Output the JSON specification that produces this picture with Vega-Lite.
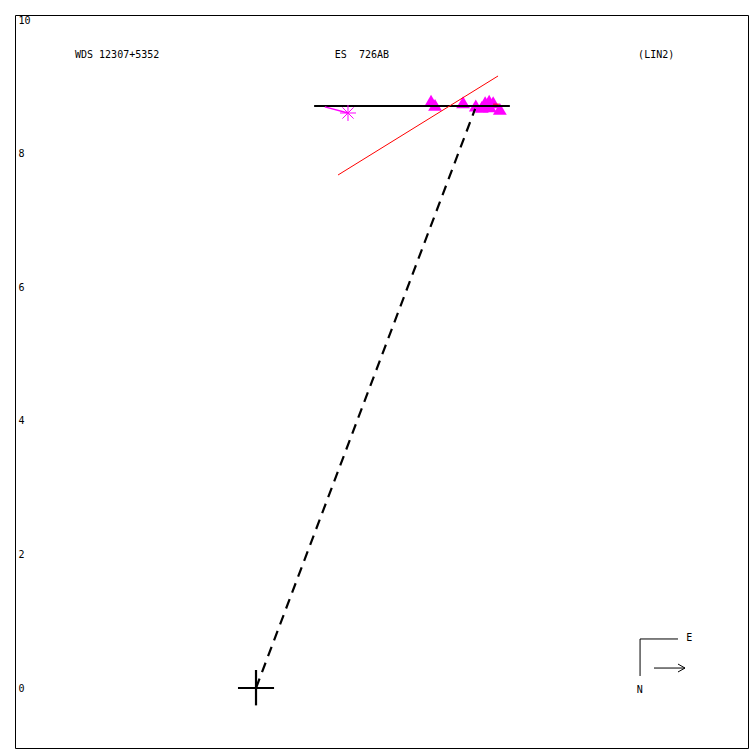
{
  "$schema": "https://vega.github.io/schema/vega-lite/v6.json",
  "width": 733,
  "height": 733,
  "autosize": {"type": "none"},
  "padding": {"left": 15, "top": 15, "right": 2, "bottom": 2},
  "background": "white",
  "config": {"view": {"stroke": "black", "strokeWidth": 1}},
  "datasets": {
    "black": [
      {"x": 0.87, "y": 8.713, "x2": 3.80, "y2": 8.713, "w": "thick"},
      {"x": -0.27, "y": 0, "x2": 0.27, "y2": 0, "w": "thick"},
      {"x": 0, "y": -0.26, "x2": 0, "y2": 0.27, "w": "thick"},
      {"x": 5.749, "y": 0.734, "x2": 6.317, "y2": 0.734, "w": "thin"},
      {"x": 5.749, "y": 0.734, "x2": 5.749, "y2": 0.18, "w": "thin"},
      {"x": 5.958, "y": 0.299, "x2": 6.422, "y2": 0.299, "w": "thin"},
      {"x": 6.317, "y": 0.359, "x2": 6.422, "y2": 0.299, "w": "thin"},
      {"x": 6.317, "y": 0.240, "x2": 6.422, "y2": 0.299, "w": "thin"}
    ],
    "red": [
      {"x": 1.228, "y": 7.68, "x2": 3.623, "y2": 9.162},
      {"x": 3.55, "y": 8.74, "x2": 3.64, "y2": 8.74}
    ],
    "dashed": [
      {"x": 0, "y": 0, "x2": 3.28, "y2": 8.67}
    ],
    "resid": [
      {"x": 1.03, "y": 8.70, "x2": 1.377, "y2": 8.608}
    ],
    "tri": [
      {"x": 2.62, "y": 8.79},
      {"x": 2.68, "y": 8.73},
      {"x": 3.10, "y": 8.77},
      {"x": 3.29, "y": 8.72},
      {"x": 3.38, "y": 8.70},
      {"x": 3.43, "y": 8.77},
      {"x": 3.49, "y": 8.79},
      {"x": 3.50, "y": 8.71},
      {"x": 3.55, "y": 8.77},
      {"x": 3.65, "y": 8.67}
    ],
    "star": [
      {"x": 1.377, "y": 8.608}
    ],
    "labels": [
      {"x": -2.71, "y": 9.476, "t": "WDS 12307+5352"},
      {"x": 1.18, "y": 9.476, "t": "ES\u00a0\u00a0726AB"},
      {"x": 5.72, "y": 9.476, "t": "(LIN2)"},
      {"x": 6.44, "y": 0.745, "t": "E"},
      {"x": 5.70, "y": -0.03, "t": "N"}
    ]
  },
  "layer": [
    {
      "data": {"name": "tri"},
      "mark": {"type": "point", "shape": "triangle-up", "filled": true, "color": "#ff00ff", "size": 190, "opacity": 1},
      "encoding": {
        "x": {"field": "x", "type": "quantitative", "scale": {"domain": [-3.608, 7.365], "nice": false, "zero": false}, "axis": null},
        "y": {"field": "y", "type": "quantitative", "scale": {"domain": [-0.898, 10.075], "nice": false, "zero": false},
              "axis": {"values": [0, 2, 4, 6, 8, 10], "format": "d", "domain": false, "ticks": false, "grid": false, "title": null,
                       "labelAlign": "left", "labelPadding": -3, "labelBaseline": "middle",
                       "labelFont": "DejaVu Sans Mono", "labelFontSize": 10, "labelColor": "black", "labelFlush": false}}
      }
    },
    {
      "data": {"name": "black"},
      "mark": {"type": "rule", "color": "black"},
      "encoding": {
        "x": {"field": "x", "type": "quantitative"},
        "y": {"field": "y", "type": "quantitative"},
        "x2": {"field": "x2"},
        "y2": {"field": "y2"},
        "strokeWidth": {"field": "w", "type": "nominal", "scale": {"domain": ["thick", "thin"], "range": [2.2, 1]}, "legend": null}
      }
    },
    {
      "data": {"name": "red"},
      "mark": {"type": "rule", "color": "#ff0000", "strokeWidth": 1},
      "encoding": {
        "x": {"field": "x", "type": "quantitative"},
        "y": {"field": "y", "type": "quantitative"},
        "x2": {"field": "x2"},
        "y2": {"field": "y2"}
      }
    },
    {
      "data": {"name": "dashed"},
      "mark": {"type": "rule", "color": "black", "strokeWidth": 2.2, "strokeDash": [10, 7]},
      "encoding": {
        "x": {"field": "x", "type": "quantitative"},
        "y": {"field": "y", "type": "quantitative"},
        "x2": {"field": "x2"},
        "y2": {"field": "y2"}
      }
    },
    {
      "data": {"name": "resid"},
      "mark": {"type": "rule", "color": "#ff00ff", "strokeWidth": 1.5},
      "encoding": {
        "x": {"field": "x", "type": "quantitative"},
        "y": {"field": "y", "type": "quantitative"},
        "x2": {"field": "x2"},
        "y2": {"field": "y2"}
      }
    },
    {
      "data": {"name": "star"},
      "mark": {"type": "point", "shape": "M-1,0L1,0M0,-1L0,1M-0.7,-0.7L0.7,0.7M-0.7,0.7L0.7,-0.7", "filled": false, "color": "#ff00ff", "size": 256, "strokeWidth": 1, "opacity": 1},
      "encoding": {
        "x": {"field": "x", "type": "quantitative"},
        "y": {"field": "y", "type": "quantitative"}
      }
    },
    {
      "data": {"name": "labels"},
      "mark": {"type": "text", "align": "left", "baseline": "middle", "font": "DejaVu Sans Mono", "fontSize": 10, "color": "black"},
      "encoding": {
        "x": {"field": "x", "type": "quantitative"},
        "y": {"field": "y", "type": "quantitative"},
        "text": {"field": "t", "type": "nominal"}
      }
    }
  ]
}
